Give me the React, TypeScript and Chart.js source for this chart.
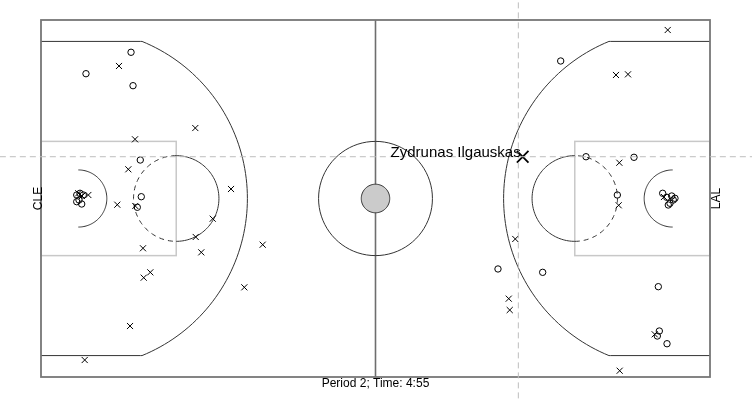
import React, { useEffect, useRef } from "react";
import { Chart, registerables } from "chart.js";

Chart.register(...registerables);

// Shots in court feet (x: 0-94 baseline to baseline, y: 0-50)
const madeX = [12.65, 6.32, 12.93, 13.95, 14.09, 13.53, 5.02, 5.48, 5.02, 5.72, 5.94, 5.34,
  73.02, 76.58, 83.32, 80.98, 64.21, 70.49, 86.74, 86.88, 86.6, 87.96, 87.35, 87.92, 88.62, 88.84, 88.38, 88.14, 89.08];
const madeY = [45.48, 42.48, 40.8, 30.39, 25.25, 23.77, 25.49, 25.73, 24.55, 24.23, 25.49, 24.79,
  44.26, 30.85, 30.77, 25.49, 15.13, 14.66, 12.65, 6.44, 5.74, 4.66, 25.73, 25.17, 25.35, 24.79, 24.33, 24.09, 25.03];
const missedX = [10.96, 21.68, 13.21, 12.27, 26.7, 10.72, 13.25, 24.13, 21.74, 14.33, 22.52, 31.15, 15.36, 14.43, 28.57, 12.51, 6.14, 5.24, 6.65, 5.76,
  88.06, 80.79, 82.48, 81.26, 81.17, 66.64, 65.72, 65.86, 86.23, 81.31, 87.53];
const missedY = [43.56, 34.87, 33.29, 29.09, 26.33, 24.13, 23.95, 22.17, 19.61, 18.03, 17.46, 18.53, 14.66, 13.91, 12.56, 7.14, 2.38, 25.73, 25.49, 25.35,
  48.6, 42.3, 42.39, 30.01, 24.05, 19.33, 10.97, 9.38, 5.98, 0.88, 25.21];
const highlightX = [67.68];
const highlightY = [30.85];
const highlightPlayer = ["Zydrunas Ilgauskas"];
const crosshairX = [67.07];
const crosshairY = [30.85];
const teams = ["CLE", "LAL"];
const footerText = "Period 2; Time: 4:55";

// Court geometry (feet)
const COURT_L = 94, COURT_W = 50, HOOP = 5.25, KEY_L = 19, KEY_HALF = 8, FT_R = 6, THREE_R = 23.75, CORNER = 3, CORNER_L = 14, RA_R = 4, CC_R = 8, CC_IN = 2;

const courtPlugin = {
  id: "court",
  beforeDatasetsDraw(chart: any) {
    const { ctx, scales } = chart;
    const xs = scales.x, ys = scales.y;
    const px = (v: number) => xs.getPixelForValue(v);
    const py = (v: number) => ys.getPixelForValue(v);
    ctx.save();
    // key boxes
    ctx.strokeStyle = "#c8c8c8";
    ctx.lineWidth = 1.5;
    for (const side of [0, 1]) {
      const x0 = side === 0 ? 0 : COURT_L - KEY_L;
      const x1 = side === 0 ? KEY_L : COURT_L;
      ctx.strokeRect(px(x0), py(25 + KEY_HALF), px(x1) - px(x0), py(25 - KEY_HALF) - py(25 + KEY_HALF));
    }
    const arcPath = (cx: number, cy: number, r: number, t0: number, t1: number) => {
      const n = 80;
      const pts: [number, number][] = [];
      for (let i = 0; i <= n; i++) {
        const t = t0 + (t1 - t0) * i / n;
        pts.push([px(cx + r * Math.cos(t)), py(cy + r * Math.sin(t))]);
      }
      return pts;
    };
    const strokePts = (pts: [number, number][], dash: number[] = []) => {
      ctx.setLineDash(dash);
      ctx.beginPath();
      pts.forEach((p, i) => (i === 0 ? ctx.moveTo(p[0], p[1]) : ctx.lineTo(p[0], p[1])));
      ctx.stroke();
      ctx.setLineDash([]);
    };
    ctx.strokeStyle = "#333";
    ctx.lineWidth = 1;
    const th = Math.asin((25 - CORNER) / THREE_R);
    for (const side of [0, 1]) {
      const dir = side === 0 ? 1 : -1;
      const base = side === 0 ? 0 : COURT_L;
      const hx = base + dir * HOOP;
      const fx = base + dir * KEY_L;
      const a0 = side === 0 ? 0 : Math.PI;
      // three point line
      const pts: [number, number][] = [[px(base), py(CORNER)], [px(base + dir * CORNER_L), py(CORNER)]];
      if (side === 0) pts.push(...arcPath(hx, 25, THREE_R, -th, th));
      else pts.push(...arcPath(hx, 25, THREE_R, Math.PI + th, Math.PI - th));
      pts.push([px(base + dir * CORNER_L), py(COURT_W - CORNER)], [px(base), py(COURT_W - CORNER)]);
      strokePts(pts);
      // restricted area
      strokePts(arcPath(hx, 25, RA_R, a0 - Math.PI / 2, a0 + Math.PI / 2));
      // free throw circle
      strokePts(arcPath(fx, 25, FT_R, a0 - Math.PI / 2, a0 + Math.PI / 2));
      strokePts(arcPath(fx, 25, FT_R, a0 + Math.PI / 2, a0 + Math.PI * 1.5), [5, 4]);
    }
    // center line
    ctx.strokeStyle = "#6e6e6e";
    ctx.lineWidth = 1.6;
    ctx.beginPath();
    ctx.moveTo(px(COURT_L / 2), py(0));
    ctx.lineTo(px(COURT_L / 2), py(COURT_W));
    ctx.stroke();
    // center circles
    ctx.strokeStyle = "#333";
    ctx.lineWidth = 1;
    strokePts(arcPath(COURT_L / 2, 25, CC_R, 0, Math.PI * 2));
    const inner = arcPath(COURT_L / 2, 25, CC_IN, 0, Math.PI * 2);
    ctx.beginPath();
    inner.forEach((p, i) => (i === 0 ? ctx.moveTo(p[0], p[1]) : ctx.lineTo(p[0], p[1])));
    ctx.closePath();
    ctx.fillStyle = "#cbcbcb";
    ctx.fill();
    ctx.stroke();
    // boundary
    ctx.strokeStyle = "#777";
    ctx.lineWidth = 1.8;
    ctx.strokeRect(px(0), py(COURT_W), px(COURT_L) - px(0), py(0) - py(COURT_W));
    ctx.restore();
  },
  afterDatasetsDraw(chart: any) {
    const { ctx, scales } = chart;
    const xs = scales.x, ys = scales.y;
    ctx.save();
    ctx.fillStyle = "#000";
    ctx.font = '15px "Liberation Sans", Arial, sans-serif';
    ctx.textAlign = "right";
    ctx.textBaseline = "alphabetic";
    highlightPlayer.forEach((name, i) => {
      ctx.fillText(name, xs.getPixelForValue(highlightX[i]) - 2, ys.getPixelForValue(highlightY[i]));
    });
    ctx.font = '12px "Liberation Sans", Arial, sans-serif';
    ctx.textAlign = "center";
    ctx.fillText(footerText, xs.getPixelForValue(COURT_L / 2), ys.getPixelForValue(0) + 10);
    const drawRot = (t: string, x: number, y: number) => {
      ctx.save();
      ctx.translate(x, y);
      ctx.rotate(-Math.PI / 2);
      ctx.textAlign = "center";
      ctx.fillText(t, 0, 0);
      ctx.restore();
    };
    drawRot(teams[0], xs.getPixelForValue(0) + 1, ys.getPixelForValue(25));
    drawRot(teams[1], xs.getPixelForValue(COURT_L) + 10, ys.getPixelForValue(25));
    ctx.restore();
  },
};

export default function App() {
  const ref = useRef<HTMLCanvasElement>(null);
  useEffect(() => {
    document.body.style.margin = "0";
    const chart = new Chart(ref.current!, {
      type: "scatter",
      data: {
        datasets: [
          {
            type: "line",
            data: [{ x: -10, y: crosshairY[0] }, { x: 110, y: crosshairY[0] }],
            borderColor: "#bdbdbd",
            borderWidth: 1,
            borderDash: [6, 4],
            pointRadius: 0,
            clip: false,
          } as any,
          {
            type: "line",
            data: [{ x: crosshairX[0], y: -10 }, { x: crosshairX[0], y: 60 }],
            borderColor: "#bdbdbd",
            borderWidth: 1,
            borderDash: [6, 4],
            pointRadius: 0,
            clip: false,
          } as any,
          {
            data: madeX.map((x, i) => ({ x, y: madeY[i] })),
            pointStyle: "circle",
            pointRadius: 3.2,
            borderColor: "#000",
            backgroundColor: "rgba(255,255,255,0)",
            borderWidth: 1,
            clip: false,
          } as any,
          {
            data: missedX.map((x, i) => ({ x, y: missedY[i] })),
            pointStyle: "crossRot",
            pointRadius: 4.3,
            borderColor: "#000",
            borderWidth: 1,
            clip: false,
          } as any,
          {
            data: highlightX.map((x, i) => ({ x, y: highlightY[i] })),
            pointStyle: "crossRot",
            pointRadius: 8.2,
            borderColor: "#000",
            borderWidth: 1.8,
            clip: false,
          } as any,
        ],
      },
      options: {
        animation: false,
        responsive: false,
        maintainAspectRatio: false,
        layout: { padding: { left: 41, right: 42, top: 20, bottom: 23 } },
        plugins: { legend: { display: false }, tooltip: { enabled: false } },
        scales: {
          x: { type: "linear", min: 0, max: COURT_L, display: false },
          y: { type: "linear", min: 0, max: COURT_W, display: false },
        },
        events: [],
      },
      plugins: [courtPlugin],
    });
    return () => chart.destroy();
  }, []);
  return (
    <div style={{ width: 752, height: 400, position: "relative" }}>
      <canvas ref={ref} width={752} height={400} />
    </div>
  );
}
